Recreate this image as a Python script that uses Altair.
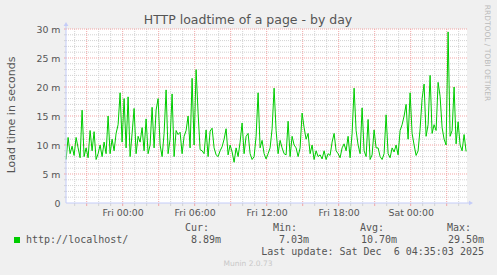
import altair as alt
import pandas as pd

# ---- data (load time in ms, one sample every 10 minutes, starting Thu 19:17) ----
load_ms = [
    7.5, 11.3, 8.5, 9.8, 8.2, 11.3, 9.5, 7.8, 16.0, 8.0,
    9.5, 7.8, 12.5, 9.0, 12.3, 7.5, 8.5, 10.0, 8.0, 10.5,
    8.5, 15.0, 8.5, 11.0, 9.0, 12.0, 13.5, 19.0, 10.5, 18.0,
    9.5, 18.3, 8.0, 12.0, 16.3, 8.5, 11.5, 10.5, 13.0, 9.0,
    14.5, 8.5, 10.0, 16.5, 9.5, 16.0, 18.0, 10.0, 8.0, 12.0,
    19.5, 8.5, 11.0, 18.8, 8.0, 12.5, 11.8, 12.2, 8.5, 11.5,
    12.5, 15.0, 9.5, 21.5, 10.0, 23.0, 15.5,
    9.2, 9.0, 8.5, 12.6, 8.0, 12.4, 12.9, 9.5, 8.3, 8.0,
    9.0, 9.7, 11.0, 12.8, 8.3, 10.0, 8.8, 7.03, 9.5, 8.0,
    10.5, 13.8, 8.5, 11.5, 12.0, 8.5, 7.5, 8.0, 11.5, 19.0,
    9.5, 10.8, 8.5, 7.6, 8.5, 9.5, 12.8, 19.8, 12.5, 8.5,
    10.8, 9.5, 8.5, 8.3, 14.1, 8.0, 11.5, 10.0, 9.5, 8.0,
    9.5, 15.5, 13.0, 11.0, 12.0, 8.5, 10.0, 7.5, 9.0, 8.0,
    8.3, 7.6, 9.0, 7.5, 8.5, 8.2, 10.5, 12.0,
    9.0, 8.5, 7.8, 9.5, 10.2, 9.0, 11.5, 7.8, 12.0, 19.8,
    12.5, 10.0, 8.5, 16.4, 9.0, 8.0, 14.4, 7.5, 8.3, 12.6,
    9.5, 9.5, 8.0, 7.5, 8.5, 15.2, 8.5, 7.8, 9.5, 8.8,
    10.0, 8.3, 12.5, 13.5, 15.0, 17.0, 11.0, 19.0, 12.0, 10.0,
    8.2, 9.0, 12.8, 18.0, 20.5, 11.5, 13.5, 22.0, 12.0, 13.5,
    12.5, 20.8, 18.4, 13.0, 11.0, 10.0, 29.5, 11.5, 12.5, 20.0,
    10.2, 14.0, 10.0, 9.0, 11.8, 8.89,
]
start_hour = -4.717          # Thu 19:17 relative to Fri 00:00
step_hour = 1.0 / 6.0        # 10 minutes
hours = [start_hour + i * step_hour for i in range(len(load_ms))]

x_tick_hours = [0, 6, 12, 18, 24]
x_tick_labels = ["Fri 00:00", "Fri 06:00", "Fri 12:00", "Fri 18:00", "Sat 00:00"]
y_tick_values = [0, 5, 10, 15, 20, 25, 30]
x_major_grid = [-3, 0, 3, 6, 9, 12, 15, 18, 21, 24, 27]
x_minor_grid = [h for h in range(-4, 29) if h % 3 != 0]
y_minor_grid = [v for v in range(0, 31) if v % 5 != 0]
y_major_grid = [5, 10, 15, 20, 25, 30]

series_name = "http://localhost/"
stat_names = ["Cur:", "Min:", "Avg:", "Max:"]
stat_values = ["8.89m", "7.03m", "10.70m", "29.50m"]
last_update = "Last update: Sat Dec\u00a0 6 04:35:03 2025"

# ---- geometry ----
PL, PT = 66, 29
W, H = 401, 174
x_dom = [-4.725, -4.725 + W / 12.0]

x_scale = alt.Scale(domain=x_dom, nice=False, zero=False)
y_scale = alt.Scale(domain=[0, 30], nice=False, zero=True)

FONT = "DejaVu Sans"
MONO = "DejaVu Sans Mono"
TXT = "#555555"
GRID_MINOR = "#D2D2D2"
GRID_MAJOR = "#F2A5A5"
AXIS_C = "#C4CCF8"
GREEN = "#00CC00"

df = pd.DataFrame({"h": hours, "v": load_ms})

label_expr = " : ".join(
    f"datum.value == {h} ? '{l}'" for h, l in zip(x_tick_hours, x_tick_labels)
) + " : ''"

X_AXIS = alt.Axis(
    values=x_tick_hours, labelExpr=label_expr, title=None, grid=False,
    ticks=False, domain=False, labelFont=FONT, labelFontSize=9.4,
    labelColor=TXT, labelPadding=5, labelBaseline="top", labelFlush=False)
Y_AXIS = alt.Axis(
    values=y_tick_values,
    labelExpr="datum.value == 0 ? '0' : datum.value + ' m'",
    title=None, grid=False, ticks=False, domain=False, labelFont=FONT,
    labelFontSize=9.4, labelColor=TXT, labelPadding=6)


def vals(name, arr):
    return alt.Data(values=[{name: a} for a in arr])


def ygrid(arr, color):
    return alt.Chart(vals("g", arr)).mark_rule(
        color=color, strokeDash=[1, 1], strokeWidth=1
    ).encode(y=alt.Y("g:Q", scale=y_scale, axis=Y_AXIS))


def xgrid(arr, color):
    return alt.Chart(vals("g", arr)).mark_rule(
        color=color, strokeDash=[1, 1], strokeWidth=1
    ).encode(x=alt.X("g:Q", scale=x_scale, axis=X_AXIS))


def yticks(arr, color):
    return alt.Chart(vals("g", arr)).mark_rule(color=color, strokeWidth=1).encode(
        y=alt.Y("g:Q", scale=y_scale, axis=Y_AXIS),
        x=alt.value(-2), x2=alt.value(0))


def xticks(arr, color):
    return alt.Chart(vals("g", arr)).mark_rule(color=color, strokeWidth=1).encode(
        x=alt.X("g:Q", scale=x_scale, axis=X_AXIS),
        y=alt.value(H), y2=alt.value(H + 3))


def text(t, x, y, align="left", font=FONT, size=10, color=TXT, angle=0, baseline="middle"):
    kw = dict(align=align, font=font, fontSize=size, color=color, baseline=baseline)
    if angle:
        kw["angle"] = angle
    return alt.Chart(vals("t", [t])).mark_text(**kw).encode(
        x=alt.value(x - PL), y=alt.value(y - PT), text="t:N")


line = alt.Chart(df).mark_line(color=GREEN, strokeWidth=1, interpolate="linear").encode(
    x=alt.X("h:Q", scale=x_scale, axis=X_AXIS),
    y=alt.Y("v:Q", scale=y_scale, axis=Y_AXIS),
)

dummy = vals("d", [0])
y_axis_line = alt.Chart(dummy).mark_rule(color=AXIS_C, strokeWidth=1).encode(
    x=alt.value(0), y=alt.value(H), y2=alt.value(-4))
x_axis_line = alt.Chart(dummy).mark_rule(color=AXIS_C, strokeWidth=1).encode(
    x=alt.value(0), x2=alt.value(W + 3), y=alt.value(H))
up_arrow = alt.Chart(dummy).mark_point(shape="triangle-up", filled=True, color=AXIS_C,
                                       size=22, opacity=1).encode(
    x=alt.value(0), y=alt.value(-5))
right_arrow = alt.Chart(dummy).mark_point(shape="triangle-right", filled=True, color=AXIS_C,
                                          size=22, opacity=1).encode(
    x=alt.value(W + 4), y=alt.value(H))

legend_box = alt.Chart(dummy).mark_rect(color=GREEN).encode(
    x=alt.value(14 - PL), x2=alt.value(20 - PL), y=alt.value(237 - PT), y2=alt.value(243 - PT))

texts = [
    text("HTTP loadtime of a page - by day", 248, 24, align="center", size=12.5, baseline="alphabetic"),
    text("Load time in seconds", 12, 115, align="center", size=11, angle=270),
    text("RRDTOOL / TOBI OETIKER", 487, 53, align="center", size=7.5, color="#BBBBBB", angle=90),
    text(series_name, 26, 240, font=MONO, size=10),
    text(last_update, 484, 252, align="right", font=MONO, size=10),
    text("Munin 2.0.73", 248, 264, align="center", size=7.5, color="#C8C8C8"),
]
stat_left = [185, 273, 360, 447]
stat_right = [221, 309, 397, 484]
for n, v, xl, xr in zip(stat_names, stat_values, stat_left, stat_right):
    texts.append(text(n, xl, 228, font=MONO, size=10))
    texts.append(text(v, xr, 240, align="right", font=MONO, size=10))

chart = alt.layer(
    ygrid(y_minor_grid, GRID_MINOR),
    xgrid(x_minor_grid, GRID_MINOR),
    ygrid(y_major_grid, GRID_MAJOR),
    xgrid(x_major_grid, GRID_MAJOR),
    yticks(y_minor_grid, GRID_MINOR),
    yticks(y_major_grid, GRID_MAJOR),
    xticks(x_minor_grid, GRID_MINOR),
    xticks(x_major_grid, GRID_MAJOR),
    line,
    y_axis_line, x_axis_line, up_arrow, right_arrow,
    legend_box,
    *texts,
).properties(
    width=W, height=H,
    autosize=alt.AutoSizeParams(type="none"),
    padding={"left": PL, "top": PT, "right": 497 - PL - W, "bottom": 275 - PT - H},
    background="#F0F0F0",
).configure_view(stroke=None, fill="white")

chart.save("out.html", embed_options={"renderer": "svg", "actions": False})
